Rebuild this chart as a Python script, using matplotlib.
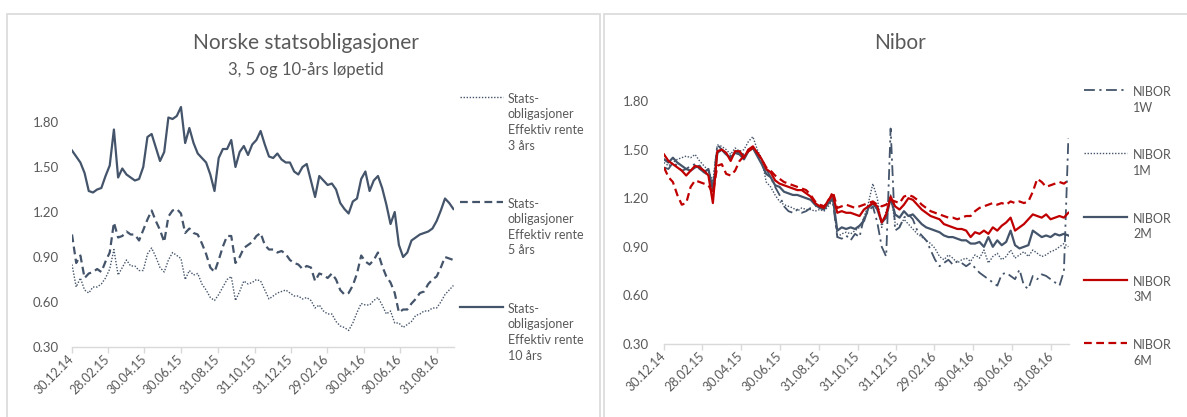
import matplotlib
matplotlib.use('Agg')
import matplotlib.pyplot as plt
import pandas as pd
from matplotlib.lines import Line2D
from matplotlib.patches import Rectangle

plt.rcParams['font.family'] = ['Lato', 'DejaVu Sans']

W, H = 1187, 417
TEXT = '#595959'
SLATE = '#44546A'
RED = '#C00000'
EDGE = '#D9D9D9'

# weekly observations, 30.12.14 - 27.09.16
dates = pd.date_range('2014-12-30', periods=92, freq='7D')

stat_3y = [0.85, 0.70, 0.76, 0.68, 0.66, 0.70, 0.70, 0.72, 0.76, 0.82,
           0.95, 0.78, 0.83, 0.88, 0.84, 0.84, 0.81, 0.81, 0.92, 0.96,
           0.90, 0.83, 0.80, 0.88, 0.93, 0.91, 0.89, 0.75, 0.81, 0.78,
           0.79, 0.72, 0.68, 0.63, 0.61, 0.65, 0.70, 0.75, 0.77, 0.61,
           0.67, 0.74, 0.72, 0.73, 0.75, 0.74, 0.68, 0.62, 0.64, 0.66,
           0.67, 0.68, 0.66, 0.64, 0.64, 0.62, 0.63, 0.61, 0.56, 0.58,
           0.54, 0.52, 0.52, 0.47, 0.44, 0.43, 0.41, 0.46, 0.53, 0.59,
           0.58, 0.58, 0.61, 0.63, 0.58, 0.52, 0.54, 0.46, 0.46, 0.43,
           0.45, 0.47, 0.51, 0.52, 0.54, 0.54, 0.56, 0.56, 0.60, 0.65,
           0.68, 0.71]
stat_5y = [1.05, 0.86, 0.91, 0.76, 0.79, 0.80, 0.82, 0.80, 0.87, 0.93,
           1.13, 1.03, 1.04, 1.07, 1.05, 1.05, 1.01, 1.08, 1.15, 1.21,
           1.14, 1.08, 1.00, 1.17, 1.21, 1.22, 1.19, 1.06, 1.09, 1.06,
           1.05, 0.99, 0.92, 0.83, 0.80, 0.88, 0.97, 1.04, 1.04, 0.86,
           0.90, 0.96, 0.98, 1.00, 1.04, 1.06, 0.98, 0.95, 0.95, 0.93,
           0.94, 0.92, 0.88, 0.86, 0.85, 0.82, 0.84, 0.83, 0.74, 0.79,
           0.78, 0.76, 0.79, 0.75, 0.68, 0.65, 0.66, 0.71, 0.79, 0.91,
           0.87, 0.85, 0.88, 0.93, 0.84, 0.77, 0.73, 0.66, 0.53, 0.55,
           0.55, 0.59, 0.62, 0.66, 0.67, 0.72, 0.75, 0.77, 0.83, 0.90,
           0.89, 0.88]
stat_10y = [1.61, 1.57, 1.53, 1.46, 1.34, 1.33, 1.35, 1.36, 1.44, 1.51,
            1.75, 1.43, 1.49, 1.45, 1.43, 1.41, 1.42, 1.50, 1.70, 1.72,
            1.63, 1.54, 1.60, 1.83, 1.82, 1.84, 1.90, 1.66, 1.76, 1.66,
            1.59, 1.56, 1.53, 1.45, 1.34, 1.56, 1.62, 1.62, 1.68, 1.50,
            1.60, 1.64, 1.58, 1.65, 1.68, 1.74, 1.65, 1.57, 1.56, 1.59,
            1.55, 1.53, 1.53, 1.47, 1.45, 1.50, 1.52, 1.41, 1.30, 1.44,
            1.41, 1.38, 1.39, 1.35, 1.26, 1.22, 1.19, 1.27, 1.29, 1.42,
            1.47, 1.34, 1.41, 1.44, 1.36, 1.25, 1.12, 1.20, 0.98, 0.90,
            0.93, 1.01, 1.03, 1.05, 1.06, 1.07, 1.09, 1.14, 1.21, 1.29,
            1.26, 1.22]

nibor_1w = [1.39, 1.38, 1.42, 1.40, 1.37, 1.38, 1.40, 1.41, 1.38, 1.36,
            1.34, 1.28, 1.53, 1.50, 1.47, 1.46, 1.49, 1.48, 1.47, 1.50,
            1.51, 1.48, 1.44, 1.38, 1.33, 1.27, 1.22, 1.15, 1.12, 1.11,
            1.13, 1.11, 1.12, 1.14, 1.15, 1.16, 1.15, 1.17, 1.18, 0.96,
            0.95, 0.97, 0.94, 0.98, 0.96, 1.08, 1.12, 1.15, 1.05, 0.90,
            0.84, 1.63, 1.00, 1.02, 1.08, 1.10, 1.07, 1.00, 0.97, 0.94,
            0.88, 0.82, 0.78, 0.80, 0.82, 0.79, 0.81, 0.80, 0.78, 0.80,
            0.77, 0.74, 0.72, 0.70, 0.68, 0.66, 0.73, 0.74, 0.72, 0.70,
            0.76, 0.66, 0.64, 0.72, 0.70, 0.73, 0.72, 0.70, 0.68, 0.66,
            0.75, 1.57]
nibor_1m = [1.42, 1.40, 1.42, 1.44, 1.45, 1.46, 1.45, 1.47, 1.43, 1.40,
            1.37, 1.30, 1.53, 1.52, 1.50, 1.47, 1.51, 1.49, 1.50, 1.55,
            1.58, 1.50, 1.44, 1.30, 1.27, 1.22, 1.18, 1.16, 1.15, 1.14,
            1.12, 1.14, 1.13, 1.13, 1.12, 1.13, 1.12, 1.15, 1.19, 0.96,
            0.98, 0.99, 0.98, 1.00, 1.02, 1.08, 1.17, 1.29, 1.20, 1.02,
            1.12, 1.22, 1.05, 1.03, 1.07, 1.04, 1.01, 0.98, 0.96, 0.94,
            0.92, 0.89, 0.84, 0.82, 0.85, 0.83, 0.80, 0.82, 0.83, 0.81,
            0.85, 0.83, 0.88, 0.80, 0.84, 0.86, 0.82, 0.84, 0.88, 0.83,
            0.85, 0.87, 0.84, 0.88, 0.86, 0.84, 0.85, 0.87, 0.88, 0.90,
            0.92, 0.90]
nibor_2m = [1.44, 1.42, 1.45, 1.42, 1.40, 1.38, 1.37, 1.39, 1.40, 1.36,
            1.38, 1.25, 1.48, 1.50, 1.47, 1.45, 1.48, 1.47, 1.44, 1.49,
            1.51, 1.46, 1.41, 1.35, 1.33, 1.28, 1.27, 1.24, 1.23, 1.22,
            1.22, 1.21, 1.20, 1.19, 1.16, 1.14, 1.13, 1.17, 1.20, 1.00,
            1.02, 1.01, 1.02, 1.01, 1.03, 1.06, 1.14, 1.17, 1.13, 1.05,
            1.08, 1.20, 1.10, 1.08, 1.12, 1.09, 1.10, 1.07, 1.04, 1.02,
            1.01, 1.00, 0.99, 0.97, 0.96, 0.96, 0.95, 0.94, 0.94, 0.92,
            0.92, 0.93, 0.90, 0.96, 0.90, 0.94, 0.91, 0.93, 1.00, 0.91,
            0.89, 0.90, 0.91, 1.00, 0.98, 0.96, 0.97, 0.96, 0.98, 0.97,
            0.98, 0.97]
nibor_3m = [1.47, 1.43, 1.41, 1.39, 1.37, 1.34, 1.37, 1.40, 1.39, 1.37,
            1.34, 1.17, 1.49, 1.50, 1.48, 1.43, 1.49, 1.49, 1.45, 1.50,
            1.52, 1.48, 1.44, 1.38, 1.36, 1.31, 1.29, 1.28, 1.27, 1.26,
            1.25, 1.25, 1.23, 1.21, 1.17, 1.15, 1.14, 1.19, 1.22, 1.11,
            1.12, 1.11, 1.11, 1.10, 1.09, 1.13, 1.15, 1.17, 1.15, 1.05,
            1.10, 1.21, 1.15, 1.13, 1.16, 1.20, 1.19, 1.16, 1.13, 1.11,
            1.09, 1.08, 1.07, 1.04, 1.03, 1.02, 1.01, 1.01, 1.00, 0.96,
            0.99, 0.98, 1.00, 0.98, 1.02, 1.00, 1.03, 1.05, 1.08, 1.00,
            1.02, 1.04, 1.07, 1.10, 1.09, 1.08, 1.10, 1.07, 1.08, 1.09,
            1.08, 1.11]
nibor_6m = [1.39, 1.33, 1.30, 1.22, 1.16, 1.17, 1.27, 1.31, 1.30, 1.29,
            1.28, 1.23, 1.40, 1.41, 1.35, 1.34, 1.37, 1.43, 1.46, 1.49,
            1.51, 1.48, 1.44, 1.39, 1.37, 1.34, 1.32, 1.30, 1.29, 1.28,
            1.27, 1.26, 1.25, 1.22, 1.18, 1.16, 1.15, 1.18, 1.24, 1.14,
            1.15, 1.16, 1.15, 1.14, 1.15, 1.16, 1.17, 1.18, 1.16, 1.15,
            1.16, 1.19, 1.18, 1.17, 1.21, 1.22, 1.21, 1.19, 1.16, 1.14,
            1.12, 1.11, 1.10, 1.09, 1.08, 1.08, 1.07, 1.08, 1.09, 1.09,
            1.12, 1.14, 1.15, 1.16, 1.17, 1.16, 1.17, 1.16, 1.18, 1.17,
            1.18, 1.17, 1.18, 1.24, 1.32, 1.30, 1.27, 1.28, 1.29, 1.30,
            1.29, 1.31]

tick_dates = pd.to_datetime(['2014-12-30', '2015-02-28', '2015-04-30', '2015-06-30',
                             '2015-08-31', '2015-10-31', '2015-12-31', '2016-02-29',
                             '2016-04-30', '2016-06-30', '2016-08-31'])
tick_labels = [d.strftime('%d.%m.%y') for d in tick_dates]
y_ticks = [0.30, 0.60, 0.90, 1.20, 1.50, 1.80]


def fx(px):
    return px / W


def fy(py):
    return 1 - py / H


def style_axes(ax, ypad):
    ax.set_xlim(dates[0], pd.Timestamp('2016-09-28'))
    ax.set_ylim(0.30, 1.95)
    ax.set_yticks(y_ticks)
    ax.set_yticklabels([f'{v:.2f}' for v in y_ticks])
    ax.set_xticks(tick_dates)
    ax.set_xticklabels(tick_labels, rotation=45, ha='right', va='center',
                       rotation_mode='anchor')
    for s in ('top', 'right', 'left'):
        ax.spines[s].set_visible(False)
    ax.spines['bottom'].set_color(EDGE)
    ax.spines['bottom'].set_linewidth(1.0)
    ax.tick_params(axis='y', length=0, pad=ypad, labelsize=9.5, labelcolor=TEXT)
    ax.tick_params(axis='x', length=4, width=1.0, color=EDGE, pad=3,
                   labelsize=9, labelcolor=TEXT)
    ax.patch.set_alpha(0)


def legend_entry(x0, x1, xt, y, label, style):
    # sample line sits on the first text line, Excel-style
    fig.add_artist(Line2D([fx(x0), fx(x1)], [fy(y), fy(y)],
                          transform=fig.transFigure, **style))
    fig.text(fx(xt), fy(y - 4), label, fontsize=9, color=TEXT, ha='left',
             va='top', linespacing=1.35)


fig = plt.figure(figsize=(W / 100, H / 100), dpi=100)

# chart frames
fig.add_artist(Rectangle((fx(7), fy(430)), fx(600) - fx(7), fy(14) - fy(430),
                         transform=fig.transFigure, fill=False, ec=EDGE, lw=1.2))
fig.add_artist(Rectangle((fx(604), fy(430)), fx(1200) - fx(604), fy(14) - fy(430),
                         transform=fig.transFigure, fill=False, ec=EDGE, lw=1.2))

# ── left: government bonds ────────────────────────────────────────────────
stat_styles = [dict(color=SLATE, lw=1.0, ls=(0, (1, 1.2))),
               dict(color=SLATE, lw=1.6, ls=(0, (3.5, 2))),
               dict(color=SLATE, lw=1.6, ls='-')]
ax1 = fig.add_axes([fx(72), fy(347), fx(454) - fx(72), 1.65 * 150 / H])
for vals, st in zip([stat_3y, stat_5y, stat_10y], stat_styles):
    ax1.plot(dates, vals, **st)
style_axes(ax1, 9.5)

fig.text(fx(306), fy(43), 'Norske statsobligasjoner', fontsize=15, color=TEXT,
         ha='center', va='center')
fig.text(fx(306), fy(70), '3, 5 og 10-års løpetid', fontsize=12, color=TEXT,
         ha='center', va='center')

stat_names = ['Stats-\nobligasjoner\nEffektiv rente\n3 års',
              'Stats-\nobligasjoner\nEffektiv rente\n5 års',
              'Stats-\nobligasjoner\nEffektiv rente\n10 års']
for i, (name, st) in enumerate(zip(stat_names, stat_styles)):
    legend_entry(460, 503, 508, 97 + 105 * i, name, st)

# ── right: Nibor ──────────────────────────────────────────────────────────
nibor_styles = [dict(color=SLATE, lw=1.3, ls=(0, (6, 2.5, 1.2, 2.5))),
                dict(color=SLATE, lw=1.0, ls=(0, (1, 1.2))),
                dict(color=SLATE, lw=1.6, ls='-'),
                dict(color=RED, lw=1.6, ls='-'),
                dict(color=RED, lw=1.6, ls=(0, (3.5, 2)))]
nibor_series = [nibor_1w, nibor_1m, nibor_2m, nibor_3m, nibor_6m]
ax2 = fig.add_axes([fx(664), fy(344), fx(1069) - fx(664), 1.65 * 162 / H])
for vals, st in zip(nibor_series, nibor_styles):
    ax2.plot(dates, vals, **st)
style_axes(ax2, 11)

fig.text(fx(900), fy(43), 'Nibor', fontsize=15, color=TEXT,
         ha='center', va='center')

nibor_names = ['NIBOR\n1W', 'NIBOR\n1M', 'NIBOR\n2M', 'NIBOR\n3M', 'NIBOR\n6M']
for i, (name, st) in enumerate(zip(nibor_names, nibor_styles)):
    legend_entry(1084, 1127, 1133, 90 + 63.3 * i, name, st)

fig.savefig('out.png', dpi=100)
